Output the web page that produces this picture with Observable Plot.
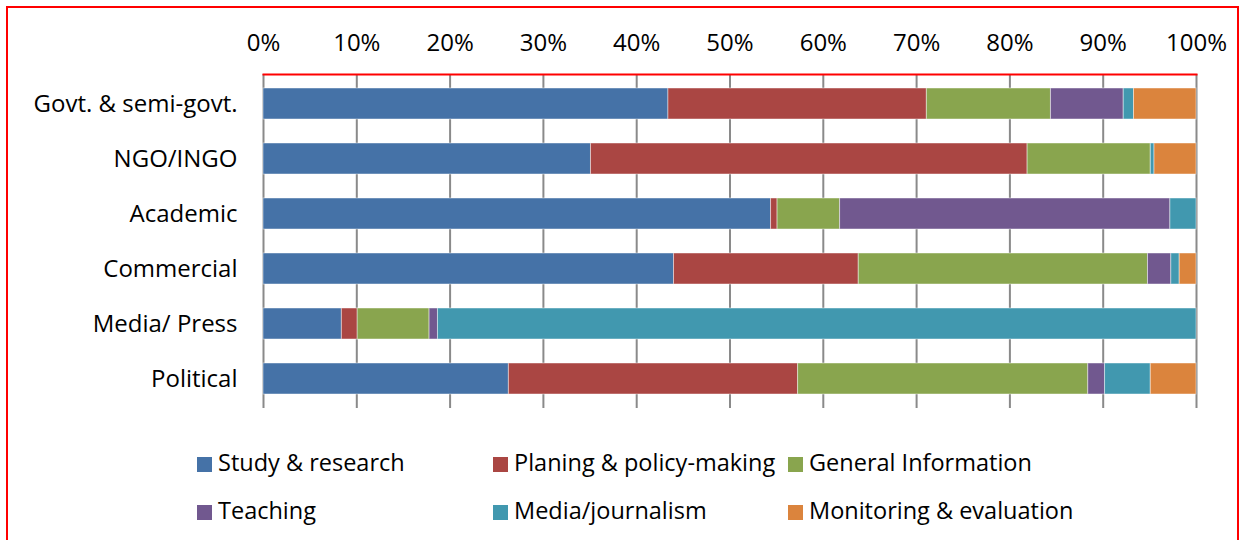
<!DOCTYPE html>
<html>
<head>
<meta charset="utf-8">
<script src="https://cdn.jsdelivr.net/npm/d3@7"></script>
<script src="https://cdn.jsdelivr.net/npm/@observablehq/plot@0.6"></script>
<style>
  html, body { margin: 0; padding: 0; background: #fff; }
  body { width: 1239px; height: 540px; position: relative; overflow: hidden; font-family: "Open Sans", Lato, sans-serif; }
  #border { position: absolute; left: 6px; top: 6px; width: 1229px; height: 600px; border: 2px solid #ff0000; border-bottom: none; }
  #chart { position: absolute; left: 0; top: 0; }
  .leg { position: absolute; font-size: 23.5px; color: #000; white-space: nowrap; line-height: 26px; }
  .leg .sw { display: inline-block; width: 15px; height: 15px; vertical-align: -1px; margin-right: 6px; }
</style>
</head>
<body>
<div id="border"></div>
<div id="chart"></div>
<div id="legend"></div>
<script>
const categories = ["Govt. & semi-govt.", "NGO/INGO", "Academic", "Commercial", "Media/ Press", "Political"];
const series = ["Study & research", "Planing & policy-making", "General Information", "Teaching", "Media/journalism", "Monitoring & evaluation"];
const colors = ["#4572A7", "#AA4643", "#89A54E", "#71588F", "#4198AF", "#DB843D"];
const study      = [43.4, 35.1, 54.4, 44.0,  8.4, 26.3];
const planning   = [27.7, 46.8,  0.7, 19.8,  1.7, 31.0];
const general    = [13.3, 13.2,  6.7, 31.0,  7.7, 31.1];
const teaching   = [ 7.8,  0.0, 35.4,  2.5,  0.9,  1.8];
const media      = [ 1.1,  0.4,  2.8,  0.9, 81.3,  4.9];
const monitoring = [ 6.7,  4.5,  0.0,  1.8,  0.0,  4.9];
const xTicks = [0, 0.1, 0.2, 0.3, 0.4, 0.5, 0.6, 0.7, 0.8, 0.9, 1];

const seriesValues = [study, planning, general, teaching, media, monitoring];
const rows = [];
series.forEach((s, si) => {
  categories.forEach((c, ci) => {
    rows.push({category: c, series: s, order: si, value: seriesValues[si][ci] / 100});
  });
});

const chart = Plot.plot({
  width: 1239,
  height: 430,
  marginTop: 74,
  marginBottom: 22,
  marginLeft: 263,
  marginRight: 43,
  style: {fontFamily: "'Open Sans', Lato, sans-serif", fontSize: "24px", color: "#000", background: "transparent"},
  x: {domain: [0, 1], ticks: xTicks, tickFormat: d3.format(".0%"), axis: "top", tickSize: 0, tickPadding: 24, label: null},
  y: {domain: categories, paddingInner: 0.44, paddingOuter: 0.22, tickSize: 0, tickPadding: 26, label: null},
  color: {domain: series, range: colors},
  marks: [
    Plot.ruleX(xTicks, {x: d => d, stroke: "#8a8a8a", strokeWidth: 2}),
    Plot.barX(rows, Plot.stackX({x: "value", y: "category", fill: "series", order: series, stroke: "#ffffff", strokeOpacity: 0.45, strokeWidth: 1})),
    Plot.frame({anchor: "top", stroke: "#ff0000", strokeWidth: 2})
  ]
});
document.getElementById("chart").appendChild(chart);

const legend = document.getElementById("legend");
const legPos = [[197, 449], [493, 449], [788, 449], [197, 497], [493, 497], [788, 497]];
series.forEach((s, i) => {
  const d = document.createElement("div");
  d.className = "leg";
  d.style.left = legPos[i][0] + "px";
  d.style.top = legPos[i][1] + "px";
  const sw = document.createElement("span");
  sw.className = "sw";
  sw.style.background = colors[i];
  d.appendChild(sw);
  d.appendChild(document.createTextNode(s));
  legend.appendChild(d);
});
</script>
</body>
</html>
